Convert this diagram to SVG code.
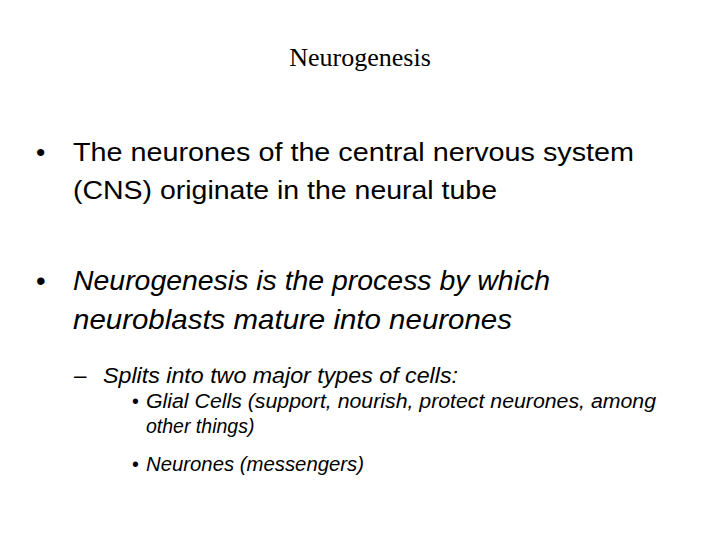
<svg xmlns="http://www.w3.org/2000/svg" width="720" height="540" viewBox="0 0 720 540">
<style>
.t{font-family:"Liberation Serif",serif;font-size:26px;fill:#000}
.b{font-family:"Liberation Sans",sans-serif;fill:#000}
.i{font-style:italic}
</style>
<rect width="720" height="540" fill="#fff"/>
<text class="t" x="360" y="66" text-anchor="middle">Neurogenesis</text>
<g id="b1" class="b" font-size="26.5">
<text x="36" y="161">•</text>
<text x="73" y="161" textLength="561" lengthAdjust="spacingAndGlyphs">The neurones of the central nervous system</text>
<text x="73" y="199" textLength="424" lengthAdjust="spacingAndGlyphs">(CNS) originate in the neural tube</text>
</g>
<g id="b2" class="b i" font-size="27.5">
<text x="36" y="290" font-style="normal">•</text>
<text x="73" y="290" textLength="477" lengthAdjust="spacingAndGlyphs">Neurogenesis is the process by which</text>
<text x="73" y="329" textLength="439" lengthAdjust="spacingAndGlyphs">neuroblasts mature into neurones</text>
</g>
<g id="b3" class="b i" font-size="22.5">
<text x="74" y="383" font-style="normal">–</text>
<text x="103" y="383" textLength="355" lengthAdjust="spacingAndGlyphs">Splits into two major types of cells:</text>
</g>
<g id="b4" class="b i" font-size="19.5">
<text x="132" y="408" font-style="normal">•</text>
<text x="146" y="408" textLength="510" lengthAdjust="spacingAndGlyphs">Glial Cells (support, nourish, protect neurones, among</text>
<text x="146" y="433">other things)</text>
<text x="132" y="471" font-style="normal">•</text>
<text x="146" y="471" textLength="218" lengthAdjust="spacingAndGlyphs">Neurones (messengers)</text>
</g>
</svg>
